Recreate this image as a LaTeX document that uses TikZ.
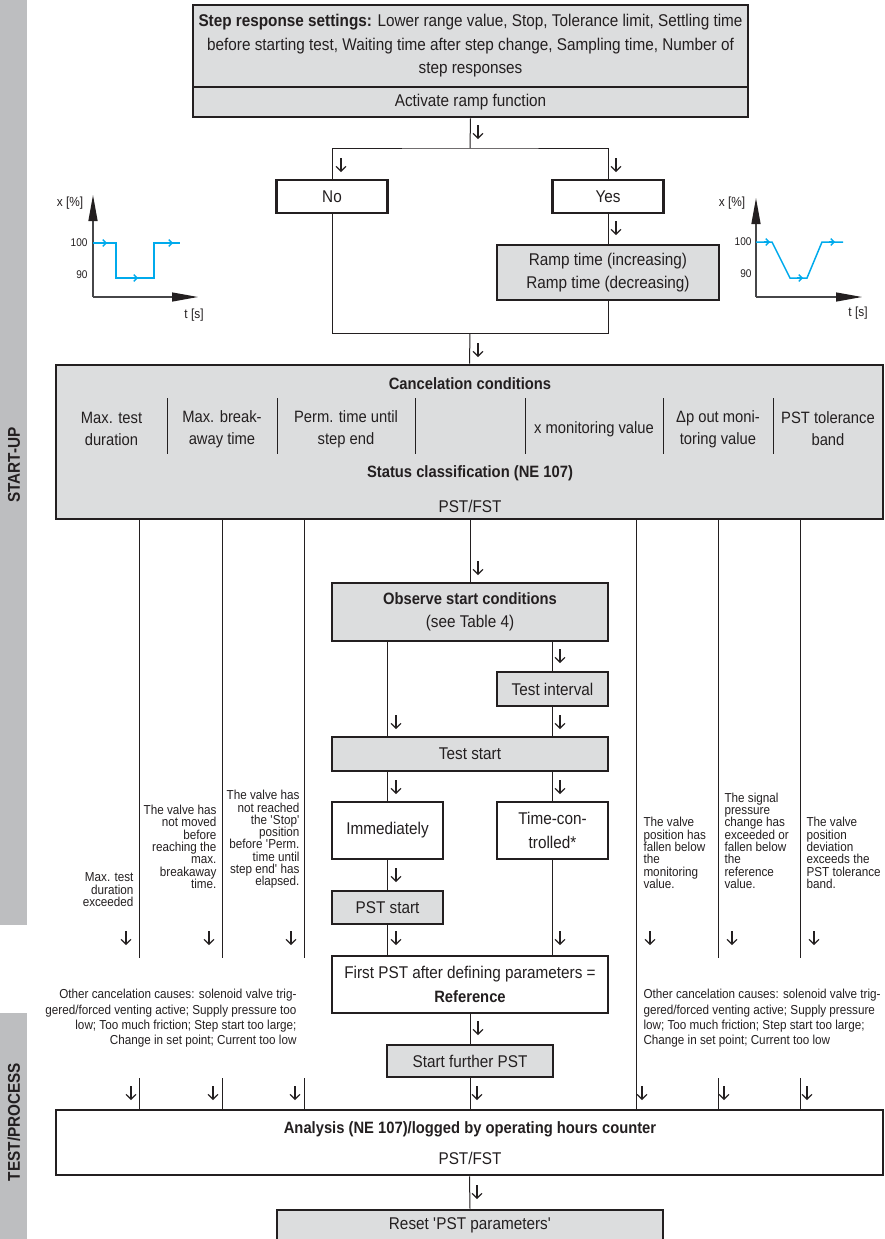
\documentclass[tikz,border=0pt]{standalone}
\usepackage{fontspec}
\setmainfont{Liberation Sans}[FakeStretch=0.9]
\usetikzlibrary{arrows.meta}
\definecolor{boxgray}{RGB}{220,221,222}
\definecolor{bargray}{RGB}{189,190,192}
\definecolor{ink}{RGB}{35,31,32}
\definecolor{curve}{RGB}{0,170,236}
\definecolor{axisgray}{RGB}{70,70,72}
\newcommand\fmain{\fontsize{8.5}{11.75}\selectfont}
\newcommand\ftitle{\fontsize{8.2}{11.75}\selectfont\bfseries}
\newcommand\fcol{\fontsize{8.2}{11}\selectfont}
\newcommand\fsmall{\fontsize{6.5}{6.15}\selectfont}
\newcommand\fother{\fontsize{6.5}{7.65}\selectfont}
\newcommand\fgraph{\fontsize{5.6}{6}\selectfont}
\newcommand\fside{\fontsize{8.5}{9}\selectfont\bfseries}
\newcommand\sq{\textquotesingle}
\begin{document}
\begin{tikzpicture}[x=0.5pt,y=-0.5pt,line width=0.5pt,draw=ink,text=ink,
  box/.style={draw=ink,line width=1.4pt,fill=boxgray,inner sep=0pt,align=center,font=\fmain},
  wbox/.style={box,fill=white},
  dn/.style={-{Straight Barb[length=2.4pt,width=5pt]},line width=0.6pt},
  tip/.style={-{Triangle[length=13pt,width=4.5pt,color=ink]}},
  chev/.style={-{Straight Barb[length=1.6pt,width=3.4pt]},curve,line width=0.7pt},
  lbl/.style={font=\fgraph,inner sep=0pt}]
\useasboundingbox (0,0) rectangle (885,1239);

\fill[bargray] (0,0) rectangle (27,925);
\fill[bargray] (0,1013) rectangle (27,1239);
\node[rotate=90,font=\fside] (startup) at (14,465) {START-UP};
\node[rotate=90,font=\fside] (testproc) at (14,1122) {TEST/PROCESS};

\node[box,minimum width=277.5pt,minimum height=41pt] (settings) at (470.5,46)
  {\textbf{Step response settings:} Lower range value, Stop, Tolerance limit, Settling time\\
   before starting test, Waiting time after step change, Sampling time, Number of\\
   step responses};
\node[box,minimum width=277.5pt,minimum height=15pt] (ramp) at (470.5,102) {Activate ramp function};
\node[wbox,minimum width=55.5pt,minimum height=16.5pt] (no) at (332,196.5) {No};
\node[wbox,minimum width=55.5pt,minimum height=16.5pt] (yes) at (608,196.5) {Yes};
\node[box,minimum width=111pt,minimum height=27.5pt] (ramptime) at (608,272.5)
  {Ramp time (increasing)\\Ramp time (decreasing)};
\node[box,minimum width=413.5pt,minimum height=77pt] (cancel) at (469.5,442) {};
\node[box,minimum width=138pt,minimum height=29pt] (observe) at (470,612)
  {{\ftitle Observe start conditions}\\(see Table 4)};
\node[box,minimum width=55.5pt,minimum height=17pt] (interval) at (552.5,689) {Test interval};
\node[box,minimum width=138pt,minimum height=17pt] (teststart) at (470,754) {Test start};
\node[wbox,minimum width=55.5pt,minimum height=28.5pt] (immed) at (387.5,830.5) {Immediately};
\node[wbox,minimum width=55.5pt,minimum height=28.5pt] (timed) at (552.5,830.5) {Time-con-\\trolled*};
\node[box,minimum width=55.5pt,minimum height=16.5pt] (pststart) at (387.5,907.5) {PST start};
\node[wbox,minimum width=138pt,minimum height=28.5pt] (firstpst) at (470,984.5)
  {First PST after defining parameters =\\{\ftitle Reference}};
\node[box,minimum width=83pt,minimum height=16pt] (further) at (470,1061) {Start further PST};
\node[wbox,minimum width=413.5pt,minimum height=32.5pt] (analysis) at (469.5,1142.5) {};
\node[box,minimum width=193pt,minimum height=15pt] (reset) at (470,1225) {Reset \sq PST parameters\sq};

\node[font=\ftitle] (cctitle) at (470,384) {Cancelation conditions};
\node[font=\fcol,align=center] (cmax) at (111.5,429) {Max. test\\duration};
\node[font=\fcol,align=center] (cbreak) at (222,429) {Max. break-\\away time};
\node[font=\fcol,align=center] (cperm) at (346,429) {Perm. time until\\step end};
\node[font=\fcol,align=center] (cmon) at (594,429) {x monitoring value};
\node[font=\fcol,align=center] (cdp) at (718,429) {Δp out moni-\\toring value};
\node[font=\fcol,align=center] (ctol) at (828,429) {PST tolerance\\band};
\foreach \x in {167,277,415,525,663,773} \draw (\x,398) -- (\x,454);
\node[font=\ftitle] (status) at (470,473) {Status classification (NE 107)};
\node[font=\fmain] (pstfst) at (470,506) {PST/FST};
\node[font=\ftitle] (antitle) at (470,1129) {Analysis (NE 107)/logged by operating hours counter};
\node[font=\fmain] (anpst) at (470,1158) {PST/FST};

\node[font=\fsmall,align=right,anchor=south east,inner sep=0pt] (why1) at (134,907) {Max. test\\duration\\exceeded};
\node[font=\fsmall,align=right,anchor=south east,inner sep=0pt] (why2) at (217,889) {The valve has\\not moved\\before\\reaching the\\max.\\breakaway\\time.};
\node[font=\fsmall,align=right,anchor=south east,inner sep=0pt] (why3) at (300,889) {The valve has\\not reached\\the \sq Stop\sq\\position\\before \sq Perm.\\time until\\step end\sq\ has\\elapsed.};
\node[font=\fsmall,align=left,anchor=south west,inner sep=0pt] (why5) at (643,889) {The valve\\position has\\fallen below\\the\\monitoring\\value.};
\node[font=\fsmall,align=left,anchor=south west,inner sep=0pt] (why6) at (724,889) {The signal\\pressure\\change has\\exceeded or\\fallen below\\the\\reference\\value.};
\node[font=\fsmall,align=left,anchor=south west,inner sep=0pt] (why7) at (806,889) {The valve\\position\\deviation\\exceeds the\\PST tolerance\\band.};
\node[font=\fother,align=right,anchor=north east,inner sep=0pt] (otherl) at (297,989)
  {Other cancelation causes: solenoid valve trig-\\gered/forced venting active; Supply pressure too\\low; Too much friction; Step start too large;\\Change in set point; Current too low};
\node[font=\fother,align=left,anchor=north west,inner sep=0pt] (otherr) at (643,989)
  {Other cancelation causes: solenoid valve trig-\\gered/forced venting active; Supply pressure\\low; Too much friction; Step start too large;\\Change in set point; Current too low};

\coordinate (split) at (470,148);
\coordinate (join) at (470,333);
\draw (ramp.south) -- (split);
\draw (no.north) |- (split) -| (yes.north);
\draw (yes) -- (ramptime);
\draw (no.south) |- (join);
\draw (ramptime.south) |- (join);
\draw (join) -- (cancel.north);
\draw (cancel.south -| observe.north) -- (observe.north);
\draw (immed.north |- observe.south) -- (immed.north |- teststart.north);
\draw (interval.north |- observe.south) -- (interval.north);
\draw (interval) -- (interval.south |- teststart.north);
\draw (immed.north |- teststart.south) -- (immed.north);
\draw (timed.north |- teststart.south) -- (timed.north);
\draw (immed) -- (pststart);
\draw (pststart.south) -- (pststart.south |- firstpst.north);
\draw (timed.south) -- (timed.south |- firstpst.north);
\draw (firstpst) -- (further);
\draw (further) -- (further.south |- analysis.north);
\draw (analysis.south) -- (reset.north);

\foreach \n/\x in {1/139,2/222,3/304,6/718,7/800} {
  \coordinate (a\n) at (\x,958);
  \coordinate (b\n) at (\x,1078);
  \draw (cancel.south -| a\n) -- (a\n);
  \draw (b\n) -- (b\n |- analysis.north);
}
\coordinate (a5) at (636,958);
\draw (cancel.south -| a5) -- (analysis.north -| a5);

\foreach \x/\y in {478/132,341/165,616/165,616/228,478/350,478/568,560/656,396/722,560/722,396/787,560/787,396/875,478/1028,477/1192}
  \draw[dn] (\x,\y-7) -- (\x,\y+7);
\foreach \x in {126,209,291,396,560,650,732,814}
  \draw[dn] (\x,931) -- (\x,945);
\foreach \x in {131,213,295,477,642,724,807}
  \draw[dn] (\x,1086) -- (\x,1100);

\coordinate (lo) at (93,297);
\draw[axisgray,line width=0.65pt,tip] (lo) -- (93,195);
\draw[axisgray,line width=0.65pt,tip] (lo) -- (198,297);
\draw[curve,line width=0.75pt] (93,243) -- (116,243) -- (116,278) -- (154,278) -- (154,243) -- (180,243);
\draw[chev] (101,243) -- (107,243);
\draw[chev] (132,278) -- (138,278);
\draw[chev] (167,243) -- (173,243);
\node[lbl,font=\fontsize{6.6}{7}\selectfont] (lx) at (70,203) {x [\%]};
\node[lbl,anchor=east] (l100) at (88,243) {100};
\node[lbl,anchor=east] (l90) at (88,275) {90};
\node[lbl,font=\fontsize{6.6}{7}\selectfont] (lt) at (194,315) {t [s]};

\coordinate (ro) at (756,297);
\draw[axisgray,line width=0.65pt,tip] (ro) -- (756,198);
\draw[axisgray,line width=0.65pt,tip] (ro) -- (862,297);
\draw[curve,line width=0.75pt] (756,242) -- (772,242) -- (790,278) -- (807,278) -- (822,242) -- (843,242);
\draw[chev] (764,242) -- (770,242);
\draw[chev] (797,278) -- (803,278);
\draw[chev] (829,242) -- (835,242);
\node[lbl,font=\fontsize{6.6}{7}\selectfont] (rx) at (732,203) {x [\%]};
\node[lbl,anchor=east] (r100) at (752,242) {100};
\node[lbl,anchor=east] (r90) at (752,274) {90};
\node[lbl,font=\fontsize{6.6}{7}\selectfont] (rt) at (858,313) {t [s]};
\end{tikzpicture}
\end{document}
